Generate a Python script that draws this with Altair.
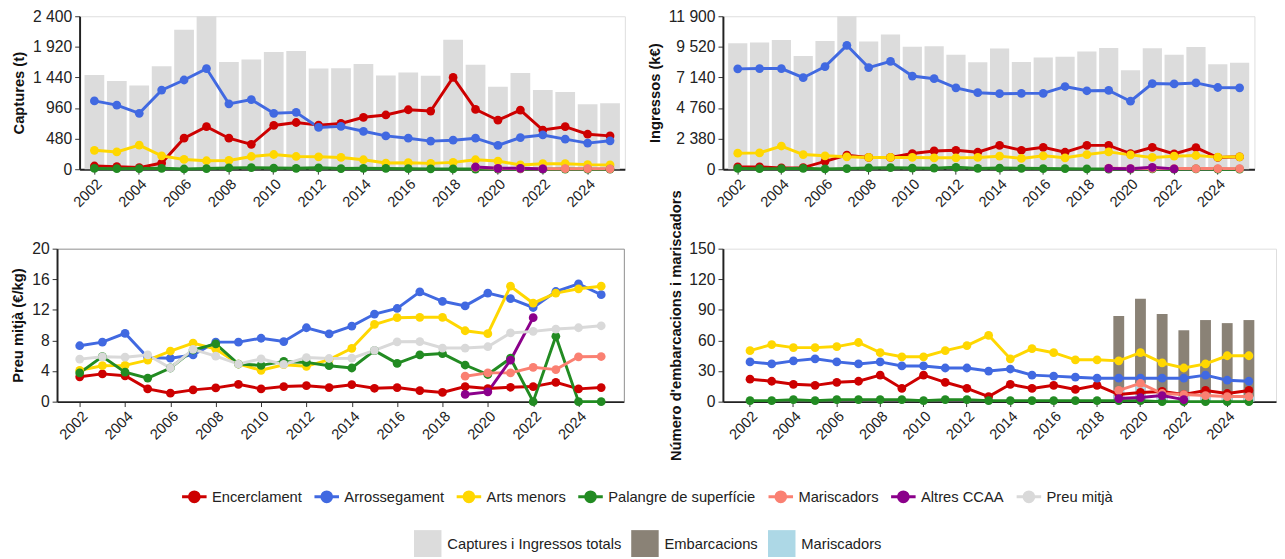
import altair as alt
import pandas as pd

years = list(range(2002, 2026))
years_new = list(range(2019, 2026))
years_alt = list(range(2019, 2023))

series_names = ["Encerclament", "Arrossegament", "Arts menors", "Palangre de superfície",
                "Mariscadors", "Altres CCAA", "Preu mitjà"]
series_colors = ["#CD0000", "#4169E1", "#FFD700", "#228B22", "#FA8072", "#8B008B", "#D9D9D9"]
bar_names = ["Captures i Ingressos totals", "Embarcacions", "Mariscadors"]
bar_colors = ["#DCDCDC", "#8A8276", "#ADD8E6"]

# Captures (t)
cap_total = [1477, 1385, 1313, 1615, 2190, 2400, 1682, 1723, 1841, 1856, 1579, 1585, 1651, 1472,
             1518, 1467, 2031, 1641, 1292, 1508, 1241, 1210, 1020, 1036]
cap_enc = [51, 41, 26, 97, 487, 667, 487, 390, 687, 733, 692, 718, 815, 851, 933, 913, 1441, 938,
           769, 928, 615, 667, 549, 523]
cap_arr = [1072, 1005, 877, 1241, 1400, 1579, 1026, 1092, 877, 892, 656, 672, 595, 523, 487, 441,
           456, 487, 374, 497, 538, 472, 410, 446]
cap_art = [297, 272, 379, 210, 154, 133, 138, 200, 231, 200, 195, 185, 149, 97, 103, 92, 108, 149,
           128, 67, 87, 87, 72, 67]
cap_pal = [12, 8, 10, 15, 4, 10, 20, 25, 18, 15, 22, 10, 15, 12, 8, 6, 5, 3, 2, 4, 0, 3, 0, 0]
cap_mar = [30, 12, 10, 9, 8, 8, 7]
cap_alt = [35, 15, 15, 5]

# Ingressos (k€)
ing_total = [9790, 9867, 10045, 8799, 9969, 11900, 9943, 10477, 9536, 9562, 8900, 8316, 9384, 8341,
             8697, 8748, 9155, 9435, 7705, 9409, 8900, 9511, 8163, 8290]
ing_enc = [178, 178, 102, 127, 610, 1093, 915, 915, 1221, 1424, 1475, 1322, 1856, 1475, 1704, 1322,
           1856, 1856, 1221, 1704, 1195, 1678, 915, 966]
ing_arr = [7807, 7833, 7833, 7120, 7985, 9638, 7909, 8392, 7248, 7044, 6332, 5951, 5874, 5900, 5900,
           6434, 6103, 6129, 5289, 6663, 6637, 6714, 6358, 6332]
ing_art = [1246, 1272, 1806, 1144, 1043, 966, 915, 915, 915, 890, 890, 915, 1017, 839, 1043, 890,
           1144, 1348, 1119, 915, 1017, 1068, 941, 966]
ing_pal = [60, 40, 45, 70, 20, 50, 100, 120, 90, 80, 150, 60, 90, 70, 50, 40, 30, 15, 10, 20, 0, 30, 0, 0]
ing_mar = [80, 50, 60, 55, 50, 50, 45]
ing_alt = [60, 40, 150, 30]

# Preu mitjà (€/kg)
p_enc = [3.25, 3.63, 3.38, 1.67, 1.11, 1.54, 1.80, 2.27, 1.67, 1.97, 2.09, 1.84, 2.22, 1.75, 1.84,
         1.45, 1.20, 1.97, 1.71, 1.88, 1.97, 2.52, 1.67, 1.84]
p_arr = [7.31, 7.78, 8.93, 5.77, 5.68, 6.11, 7.78, 7.78, 8.29, 7.86, 9.66, 8.85, 9.87, 11.45, 12.18,
         14.36, 13.12, 12.52, 14.19, 13.46, 12.31, 14.40, 15.39, 13.98]
p_art = [4.10, 4.70, 4.74, 5.43, 6.62, 7.65, 6.88, 4.92, 4.10, 4.83, 4.62, 5.50, 6.97, 10.09, 10.98,
         11.03, 11.03, 9.27, 8.89, 15.09, 12.87, 14.19, 14.75, 15.09]
p_pal = [3.76, 5.90, 3.85, 3.08, 4.40, 6.75, 7.56, 4.92, 4.74, 5.26, 5.13, 4.70, 4.40, 6.67, 5.00,
         6.11, 6.28, 4.79, 3.55, 5.68, 0.0, 8.55, 0.0, 0.0]
p_mar = [3.33, 3.76, 3.76, 4.49, 4.19, 5.86, 5.90]
p_alt = [0.94, 1.28, 5.43, 10.98]
p_mitja = [5.56, 5.86, 5.81, 6.11, 4.40, 6.84, 5.94, 4.92, 5.60, 4.87, 5.77, 5.64, 5.68, 6.71, 7.82,
           7.86, 7.01, 7.01, 7.18, 8.98, 9.19, 9.49, 9.66, 9.92]

# Número d'embarcacions i mariscadors
n_enc = [22, 20, 17, 16, 19, 20, 26, 13, 26, 19, 13, 5, 17, 13, 16, 12, 16, 7, 9, 10, 7, 11, 8, 11]
n_arr = [39, 37, 40, 42, 39, 37, 39, 35, 35, 33, 33, 30, 32, 26, 25, 24, 23, 23, 23, 23, 23, 26, 21, 20]
n_art = [50, 56, 53, 53, 54, 58, 48, 44, 44, 50, 55, 65, 42, 52, 48, 41, 41, 40, 48, 38, 33, 37, 45, 45]
n_pal = [1, 1, 2, 1, 2, 2, 2, 2, 1, 2, 2, 1, 1, 1, 1, 1, 1, 1, 1, 0, 0, 0, 0, 0]
n_mar = [11, 18, 8, 7, 6, 5, 5]
n_alt = [3, 4, 6, 2]
n_emb_bar = [84, 101, 86, 70, 80, 77, 80]
n_mar_bar = [11, 18, 8, 7, 6, 5, 5]

FONT = "Liberation Sans"
FRAME = "#8c8c8c"


def long_df(items):
    rows = []
    for name, yrs, vals in items:
        for yr, v in zip(yrs, vals):
            rows.append({"year": yr, "value": v, "series": name})
    return pd.DataFrame(rows)


def bar_df(items):
    rows = []
    for name, yrs, vals in items:
        for yr, v in zip(yrs, vals):
            rows.append({"year": yr, "value": v, "kind": name})
    return pd.DataFrame(rows)


line_sym = "M-1,0L1,0M-0.4,0A0.4,0.4,0,1,0,0.4,0A0.4,0.4,0,1,0,-0.4,0Z"

color_legend = alt.Legend(
    title=None, orient="none", direction="horizontal", columns=7,
    legendX=103, legendY=476, symbolType=line_sym, symbolSize=625,
    symbolStrokeWidth=3, labelFontSize=15, labelFont=FONT, labelColor="#222",
    columnPadding=6, labelOffset=4, labelLimit=400,
)
fill_legend = alt.Legend(
    title=None, orient="none", direction="horizontal", columns=3,
    legendX=341, legendY=524, symbolType="square", symbolSize=784,
    symbolStrokeWidth=0, labelFontSize=15, labelFont=FONT, labelColor="#222",
    columnPadding=9.5, labelOffset=6, labelLimit=400,
)
color_scale = alt.Scale(domain=series_names, range=series_colors)
fill_scale = alt.Scale(domain=bar_names, range=bar_colors)

x_axis = alt.Axis(values=list(range(2002, 2026, 2)), labelAngle=315, labelFontSize=15,
                  labelFont=FONT, labelColor="#222", tickSize=5, tickColor="#333",
                  domainColor="#222", domainWidth=2, labelPadding=2, title=None)


def y_axis(title, step, ymax, offset=0):
    vals = []
    v = 0
    while v <= ymax + 1e-9:
        vals.append(v)
        v += step
    return alt.Axis(values=vals, title=title, labelExpr="replace(format(datum.value, ','), ',', ' ')",
                    labelFontSize=16, labelFont=FONT, labelColor="#222", tickSize=5,
                    tickColor="#333", domainColor="#222", domainWidth=2, grid=False,
                    titleFontSize=15, titleFont=FONT, titleFontWeight="bold",
                    titleColor="#111", titlePadding=6, labelPadding=3, offset=offset)


def panel(lines, bars, title, ymax, step, width, xscale):
    x = alt.X("year:O", scale=xscale, axis=x_axis)
    y = alt.Y("value:Q", scale=alt.Scale(domain=[0, ymax], nice=False, zero=True),
              axis=y_axis(title, step, ymax), stack=None)
    layers = []
    if bars is not None:
        layers.append(alt.Chart(bars).mark_bar().encode(
            x=x, y=y, fill=alt.Fill("kind:N", scale=fill_scale, legend=fill_legend)))
    layers.append(alt.Chart(lines).mark_line(strokeWidth=3).encode(
        x=x, y=y, color=alt.Color("series:N", scale=color_scale, legend=color_legend)))
    layers.append(alt.Chart(lines).mark_circle(size=80, opacity=1).encode(
        x=x, y=y, color=alt.Color("series:N", scale=color_scale, legend=color_legend)))
    return alt.layer(*layers).properties(width=width, height=156)


tl = panel(
    long_df([("Encerclament", years, cap_enc), ("Arrossegament", years, cap_arr),
             ("Arts menors", years, cap_art), ("Palangre de superfície", years, cap_pal),
             ("Mariscadors", years_new, cap_mar), ("Altres CCAA", years_alt, cap_alt)]),
    bar_df([("Captures i Ingressos totals", years, cap_total)]),
    "Captures (t)", 2400, 480, 556, alt.Scale(paddingInner=0.12, paddingOuter=0.22))

tr = panel(
    long_df([("Encerclament", years, ing_enc), ("Arrossegament", years, ing_arr),
             ("Arts menors", years, ing_art), ("Palangre de superfície", years, ing_pal),
             ("Mariscadors", years_new, ing_mar), ("Altres CCAA", years_alt, ing_alt)]),
    bar_df([("Captures i Ingressos totals", years, ing_total)]),
    "Ingressos (k€)", 11900, 2380, 542, alt.Scale(paddingInner=0.12, paddingOuter=0.24))

# Bottom-left panel: plot area extended 23px to the left of the column origin
BL_SHIFT = 23
bl_lines = long_df([("Encerclament", years, p_enc), ("Arrossegament", years, p_arr),
                    ("Arts menors", years, p_art), ("Palangre de superfície", years, p_pal),
                    ("Mariscadors", years_new, p_mar), ("Altres CCAA", years_alt, p_alt),
                    ("Preu mitjà", years, p_mitja)])
bl_w = 578 - BL_SHIFT
bl_xscale = alt.Scale(type="point", padding=1.12, range=[-BL_SHIFT, bl_w])
bl_yscale = alt.Scale(domain=[0, 20], nice=False, zero=True)
bl_x = alt.X("year:O", scale=bl_xscale, axis=x_axis)
bl_y = alt.Y("value:Q", scale=bl_yscale, axis=y_axis("Preu mitjà (€/kg)", 4, 20, offset=BL_SHIFT))
bl_main = alt.layer(
    alt.Chart(bl_lines).mark_line(strokeWidth=3).encode(
        x=bl_x, y=bl_y, color=alt.Color("series:N", scale=color_scale, legend=color_legend)),
    alt.Chart(bl_lines).mark_circle(size=80, opacity=1).encode(
        x=bl_x, y=bl_y, color=alt.Color("series:N", scale=color_scale, legend=color_legend)),
)
bl_frame = alt.Chart(bl_lines).mark_point(opacity=0).encode(
    x=alt.X("year:O", scale=bl_xscale,
            axis=alt.Axis(orient="top", labels=False, ticks=False, domainColor=FRAME,
                          domainWidth=1, title=None, grid=False)),
    y=alt.Y("value:Q", scale=bl_yscale,
            axis=alt.Axis(orient="right", labels=False, ticks=False, domainColor=FRAME,
                          domainWidth=1, title=None, grid=False)),
)
bl = alt.layer(bl_main, bl_frame).resolve_axis(x="independent", y="independent").properties(
    width=bl_w, height=156, view=alt.ViewBackground(stroke=None))

br = panel(
    long_df([("Encerclament", years, n_enc), ("Arrossegament", years, n_arr),
             ("Arts menors", years, n_art), ("Palangre de superfície", years, n_pal),
             ("Mariscadors", years_new, n_mar), ("Altres CCAA", years_alt, n_alt)]),
    bar_df([("Embarcacions", years_new, n_emb_bar), ("Mariscadors", years_new, n_mar_bar)]),
    "Número d'embarcacions i mariscadors", 150, 30, 564,
    alt.Scale(paddingInner=0.5, paddingOuter=1.0))

top = alt.hconcat(tl, tr, spacing=21)
bottom = alt.hconcat(bl, br, spacing=21)

chart = alt.concat(top, bottom, columns=1, align="none", spacing=-22).properties(
    padding={"left": 3, "top": -6, "right": 0, "bottom": -6}
).resolve_scale(color="shared", fill="shared").configure_view(
    stroke=FRAME, strokeWidth=1
).configure(font=FONT)

chart.save("out.html", embed_options={"renderer": "svg", "actions": False})
